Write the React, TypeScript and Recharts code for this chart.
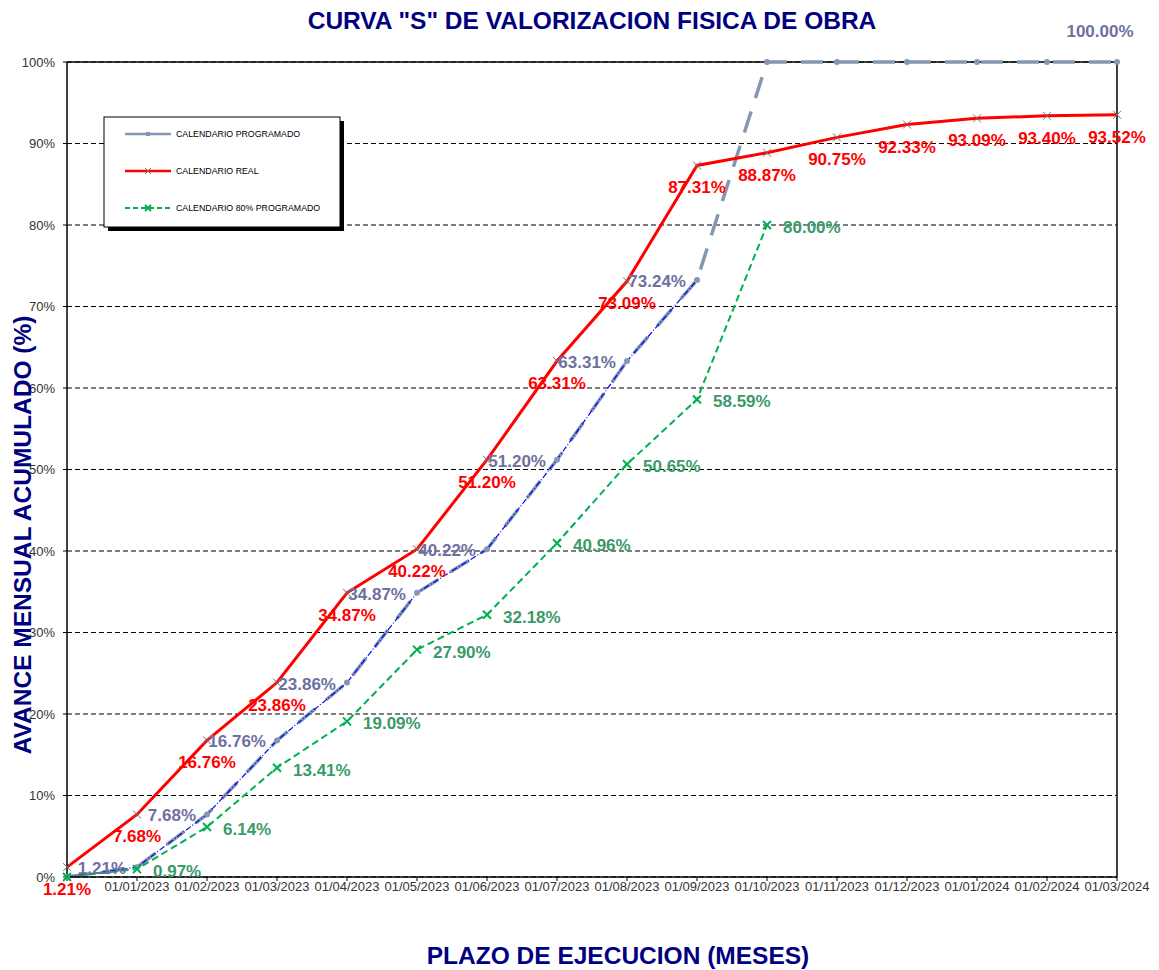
import React from 'react';
import { LineChart, Line, XAxis, YAxis, CartesianGrid, LabelList, ReferenceLine } from 'recharts';

const categories = ['', '01/01/2023', '01/02/2023', '01/03/2023', '01/04/2023', '01/05/2023', '01/06/2023', '01/07/2023', '01/08/2023', '01/09/2023', '01/10/2023', '01/11/2023', '01/12/2023', '01/01/2024', '01/02/2024', '01/03/2024'];
const programado = [0, 1.21, 7.68, 16.76, 23.86, 34.87, 40.22, 51.2, 63.31, 73.24, 100, 100, 100, 100, 100, 100];
const programadoTramo = [0, 1.21, 7.68, 16.76, 23.86, 34.87, 40.22, 51.2, 63.31, 73.24, null, null, null, null, null, null];
const real = [1.21, 7.68, 16.76, 23.86, 34.87, 40.22, 51.2, 63.31, 73.09, 87.31, 88.87, 90.75, 92.33, 93.09, 93.4, 93.52];
const ochentaPct = [0, 0.97, 6.14, 13.41, 19.09, 27.9, 32.18, 40.96, 50.65, 58.59, 80.0, null, null, null, null, null];
const yTicks = [0, 10, 20, 30, 40, 50, 60, 70, 80, 90, 100];
const xTicks = categories.map((_, i) => i);

const data = categories.map((c, i) => ({
  i,
  cat: c,
  prog: programado[i],
  progTramo: programadoTramo[i],
  real: real[i],
  ochenta: ochentaPct[i],
}));

const GREY = '#8497B0';
const GREY_TXT = '#6E70A0';
const RED = '#FF0000';
const GREEN = '#00B050';
const GREEN_TXT = '#3A9A68';
const NAVY = '#000080';
const FONT = 'Arial, "Liberation Sans", sans-serif';

const fmt = (v: number) => v.toFixed(2) + '%';

const XDot = (props: any) => {
  const { cx, cy, stroke, sw, s } = props;
  if (cx == null || cy == null || props.value == null) return null;
  return (
    <path
      d={`M${cx - s},${cy - s}L${cx + s},${cy + s}M${cx - s},${cy + s}L${cx + s},${cy - s}`}
      stroke={stroke}
      strokeWidth={sw}
      fill="none"
    />
  );
};

const RealDot = (p: any) => <XDot key={`r${p.index}`} {...p} stroke="#707070" sw={1} s={4} />;
const GreenDot = (p: any) => <XDot key={`g${p.index}`} {...p} stroke={GREEN} sw={2} s={4} />;
const GreyDot = (p: any) => {
  if (p.cx == null || p.cy == null || p.value == null) return null;
  return <circle key={`p${p.index}`} cx={p.cx} cy={p.cy} r={3} fill={GREY} />;
};

const labelStyle = { fontFamily: FONT, fontWeight: 700, fontSize: 17 } as const;

const RedLabel = (p: any) => {
  const { x, y, value } = p;
  if (value == null) return null;
  return (
    <text x={x} y={y + 28} textAnchor="middle" fill={RED} style={labelStyle}>
      {fmt(value)}
    </text>
  );
};

const GreenLabel = (p: any) => {
  const { x, y, value, index } = p;
  if (value == null || index === 0) return null;
  return (
    <text x={x + 16} y={y + 8} textAnchor="start" fill={GREEN_TXT} style={labelStyle}>
      {fmt(value)}
    </text>
  );
};

const GreyLabel = (p: any) => {
  const { x, y, value, index } = p;
  if (value == null || index === 0) return null;
  if (index >= 10 && index < 15) return null;
  if (index === 15) {
    return (
      <text x={x - 17} y={y - 25} textAnchor="middle" fill={GREY_TXT} style={labelStyle}>
        {fmt(value)}
      </text>
    );
  }
  return (
    <text x={x - 11} y={y + 7} textAnchor="end" fill={GREY_TXT} style={labelStyle}>
      {fmt(value)}
    </text>
  );
};

export default function App() {
  return (
    <div style={{ position: 'absolute', left: 0, top: 0, width: 1159, height: 970, background: '#fff' }}>
      <LineChart width={1159} height={970} data={data} margin={{ top: 62, right: 42, bottom: 63, left: 7 }}>
        <CartesianGrid horizontal vertical={false} stroke="#000" strokeDasharray="5 3" />
        <XAxis
          dataKey="i"
          type="number"
          domain={[0, 15]}
          ticks={xTicks}
          interval={0}
          height={30}
          tickFormatter={(v: number) => categories[v]}
          tick={{ fill: '#333', fontSize: 13, fontFamily: FONT }}
          tickSize={4}
          tickMargin={1}
          axisLine={{ stroke: '#000', strokeWidth: 1.5 }}
          tickLine={{ stroke: '#000' }}
        />
        <YAxis
          type="number"
          domain={[0, 100]}
          ticks={yTicks}
          interval={0}
          width={60}
          tickFormatter={(v: number) => `${v}%`}
          tick={{ fill: '#333', fontSize: 13, fontFamily: FONT }}
          tickSize={4}
          tickMargin={8}
          axisLine={{ stroke: '#000', strokeWidth: 1.5 }}
          tickLine={{ stroke: '#000' }}
        />
        <ReferenceLine y={100} stroke="#000" strokeWidth={1.5} />
        <ReferenceLine x={15} stroke="#000" strokeWidth={1.5} />
        <Line
          dataKey="prog"
          stroke={GREY}
          strokeWidth={3.5}
          strokeDasharray="22 14"
          dot={GreyDot}
          isAnimationActive={false}
          connectNulls={false}
        >
          <LabelList dataKey="prog" content={GreyLabel} />
        </Line>
        <Line
          dataKey="progTramo"
          stroke="#0000FF"
          strokeWidth={1.2}
          strokeDasharray="6 2 1 2"
          dot={false}
          isAnimationActive={false}
        />
        <Line
          dataKey="ochenta"
          stroke={GREEN}
          strokeWidth={2}
          strokeDasharray="7 4"
          dot={GreenDot}
          isAnimationActive={false}
        >
          <LabelList dataKey="ochenta" content={GreenLabel} />
        </Line>
        <Line dataKey="real" stroke={RED} strokeWidth={3} dot={RealDot} isAnimationActive={false}>
          <LabelList dataKey="real" content={RedLabel} />
        </Line>
      </LineChart>
      <svg
        width={1159}
        height={970}
        style={{ position: 'absolute', left: 0, top: 0, pointerEvents: 'none' }}
      >
        <text x={592} y={29} textAnchor="middle" fill={NAVY} style={{ fontFamily: FONT, fontWeight: 700, fontSize: 24.5 }}>
          CURVA "S" DE VALORIZACION FISICA DE OBRA
        </text>
        <text
          x={0}
          y={0}
          transform="translate(31,535) rotate(-90)"
          textAnchor="middle"
          fill={NAVY}
          style={{ fontFamily: FONT, fontWeight: 700, fontSize: 24.5 }}
        >
          AVANCE MENSUAL ACUMULADO (%)
        </text>
        <text x={618} y={964} textAnchor="middle" fill={NAVY} style={{ fontFamily: FONT, fontWeight: 700, fontSize: 24.5 }}>
          PLAZO DE EJECUCION (MESES)
        </text>
        <g>
          <rect x={108} y={121} width={236} height={110} fill="#000" />
          <rect x={104} y={117} width={236} height={110} fill="#fff" stroke="#000" strokeWidth={1} />
          <line x1={125} y1={134} x2={171} y2={134} stroke={GREY} strokeWidth={2.5} />
          <rect x={146} y={132} width={4} height={4} fill={GREY} />
          <text x={176} y={137} fill="#000" style={{ fontFamily: FONT, fontSize: 8.8 }}>CALENDARIO PROGRAMADO</text>
          <line x1={125} y1={171} x2={171} y2={171} stroke={RED} strokeWidth={2.5} />
          <path d="M145,168L151,174M145,174L151,168" stroke="#707070" strokeWidth={1} />
          <text x={176} y={174} fill="#000" style={{ fontFamily: FONT, fontSize: 8.8 }}>CALENDARIO REAL</text>
          <line x1={125} y1={208} x2={171} y2={208} stroke={GREEN} strokeWidth={2} strokeDasharray="5 3" />
          <path d="M145,205L151,211M145,211L151,205" stroke={GREEN} strokeWidth={2} />
          <text x={176} y={211} fill="#000" style={{ fontFamily: FONT, fontSize: 8.8 }}>CALENDARIO 80% PROGRAMADO</text>
        </g>
      </svg>
    </div>
  );
}
